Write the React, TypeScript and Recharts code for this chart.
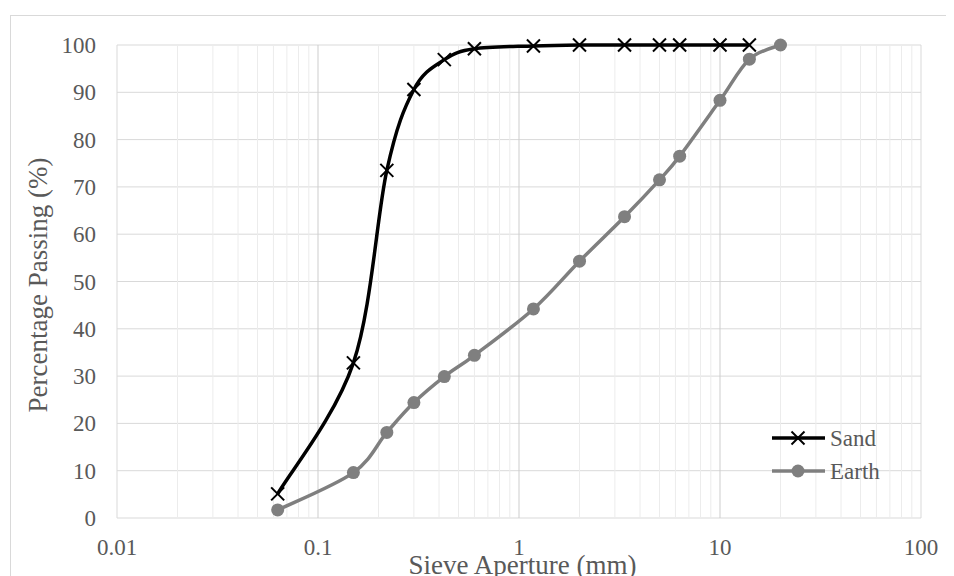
import React from 'react';
import { LineChart, Line, XAxis, YAxis, CartesianGrid, ReferenceLine, Legend, Label } from 'recharts';

const FONT = "'Times New Roman', 'Liberation Serif', serif";
const TEXT = '#595959';

// Sieve apertures (mm) and percentage passing
const sandSieves = [0.063, 0.15, 0.22, 0.3, 0.425, 0.6, 1.18, 2, 3.35, 5, 6.3, 10, 14];
const sandPassing = [5.1, 32.8, 73.5, 90.6, 96.9, 99.2, 99.8, 100, 100, 100, 100, 100, 100];
const earthSieves = [0.063, 0.15, 0.22, 0.3, 0.425, 0.6, 1.18, 2, 3.35, 5, 6.3, 10, 14, 20];
const earthPassing = [1.7, 9.6, 18.1, 24.4, 29.9, 34.4, 44.2, 54.3, 63.7, 71.5, 76.5, 88.3, 97.0, 100];

const seriesOrder = ['sand', 'earth'];

const xTicks = [0.01, 0.1, 1, 10, 100];
const yTicks = [0, 10, 20, 30, 40, 50, 60, 70, 80, 90, 100];
const xMajorLines = [0.1, 1, 10];
const xEdgeLines = [0.01, 100];
const xMinorLines = [
  0.02, 0.03, 0.04, 0.05, 0.06, 0.07, 0.08, 0.09,
  0.2, 0.3, 0.4, 0.5, 0.6, 0.7, 0.8, 0.9,
  2, 3, 4, 5, 6, 7, 8, 9,
  20, 30, 40, 50, 60, 70, 80, 90,
];

const sandData = sandSieves.map((x, i) => ({ x, sand: sandPassing[i] }));
const earthData = earthSieves.map((x, i) => ({ x, earth: earthPassing[i] }));

const SAND_COLOR = '#000000';
const EARTH_COLOR = '#7f7f7f';

// Excel-like smoothed line (Catmull-Rom through the points)
function excelSmooth(context: any) {
  let pts: number[][] = [];
  let line: number = NaN;
  return {
    areaStart() { line = 0; },
    areaEnd() { line = NaN; },
    lineStart() { pts = []; },
    point(x: number, y: number) { pts.push([+x, +y]); },
    lineEnd() {
      const n = pts.length;
      if (n) {
        if (line) context.lineTo(pts[0][0], pts[0][1]);
        else context.moveTo(pts[0][0], pts[0][1]);
        if (n === 2) {
          context.lineTo(pts[1][0], pts[1][1]);
        } else if (n > 2) {
          for (let i = 0; i < n - 1; i++) {
            const p0 = pts[i - 1] || pts[i];
            const p1 = pts[i];
            const p2 = pts[i + 1];
            const p3 = pts[i + 2] || p2;
            const c1x = p1[0] + (p2[0] - p0[0]) / 6;
            const c1y = p1[1] + (p2[1] - p0[1]) / 6;
            const c2x = p2[0] - (p3[0] - p1[0]) / 6;
            const c2y = p2[1] - (p3[1] - p1[1]) / 6;
            context.bezierCurveTo(c1x, c1y, c2x, c2y, p2[0], p2[1]);
          }
        }
      }
      if (line || (line !== 0 && n === 1)) context.closePath();
      line = 1 - line;
    },
  };
}

const CROSS = 6.5;

const CrossDot = (props: any) => {
  const { cx, cy, index } = props;
  if (cx == null || cy == null) return <g key={`s-${index}`} />;
  return (
    <g key={`s-${index}`}>
      <line x1={cx - CROSS} y1={cy - CROSS} x2={cx + CROSS} y2={cy + CROSS} stroke={SAND_COLOR} strokeWidth={2} />
      <line x1={cx - CROSS} y1={cy + CROSS} x2={cx + CROSS} y2={cy - CROSS} stroke={SAND_COLOR} strokeWidth={2} />
    </g>
  );
};

const CircleDot = (props: any) => {
  const { cx, cy, index } = props;
  if (cx == null || cy == null) return <g key={`e-${index}`} />;
  return <circle key={`e-${index}`} cx={cx} cy={cy} r={6.5} fill={EARTH_COLOR} stroke="none" />;
};

const XTick = (props: any) => {
  const { x, y, payload } = props;
  return (
    <text x={x} y={y + 37} textAnchor="middle" fontSize={23} fill={TEXT} fontFamily={FONT}>
      {payload.value}
    </text>
  );
};

const YTick = (props: any) => {
  const { x, y, payload } = props;
  return (
    <text x={x - 21} y={y + 8} textAnchor="end" fontSize={23} fill={TEXT} fontFamily={FONT}>
      {payload.value}
    </text>
  );
};

const renderLegend = (props: any) => {
  const items = [...(props.payload || [])].sort(
    (a: any, b: any) => seriesOrder.indexOf(a.dataKey) - seriesOrder.indexOf(b.dataKey)
  );
  return (
    <svg width={150} height={66} style={{ display: 'block', overflow: 'visible' }}>
      {items.map((entry: any, i: number) => {
        const cy = 15 + i * 33;
        const isSand = entry.dataKey === 'sand';
        return (
          <g key={entry.value}>
            <line x1={0} x2={53} y1={cy} y2={cy} stroke={entry.color} strokeWidth={3.5} />
            {isSand ? (
              <g>
                <line x1={26 - CROSS} y1={cy - CROSS} x2={26 + CROSS} y2={cy + CROSS} stroke={entry.color} strokeWidth={2} />
                <line x1={26 - CROSS} y1={cy + CROSS} x2={26 + CROSS} y2={cy - CROSS} stroke={entry.color} strokeWidth={2} />
              </g>
            ) : (
              <circle cx={26} cy={cy} r={6.5} fill={entry.color} />
            )}
            <text x={58} y={cy + 8} fontSize={23} fill={TEXT} fontFamily={FONT}>
              {entry.value}
            </text>
          </g>
        );
      })}
    </svg>
  );
};

export default function App() {
  return (
    <div style={{ position: 'relative', width: 946, height: 568, overflow: 'hidden' }}>
      <div
        style={{
          position: 'absolute',
          left: 2,
          top: 7,
          width: 1000,
          height: 1000,
          border: '1px solid #d9d9d9',
          boxSizing: 'border-box',
        }}
      />
      <LineChart width={946} height={568} margin={{ top: 37, right: 33, bottom: 0, left: 0 }}>
        <XAxis
          type="number"
          dataKey="x"
          scale="log"
          domain={[0.01, 100]}
          ticks={xTicks}
          allowDataOverflow
          axisLine={false}
          tickLine={false}
          tickSize={0}
          tickMargin={0}
          height={58}
          tick={<XTick />}
          interval={0}
        >
          <Label
            content={() => (
              <text x={514.5} y={566} textAnchor="middle" fontSize={27} fill={TEXT} fontFamily={FONT}>
                Sieve Aperture (mm)
              </text>
            )}
          />
        </XAxis>
        <YAxis
          type="number"
          domain={[0, 100]}
          ticks={yTicks}
          axisLine={false}
          tickLine={false}
          tickSize={0}
          tickMargin={0}
          width={109}
          tick={<YTick />}
          interval={0}
        >
          <Label
            content={() => (
              <text
                x={39}
                y={277}
                transform="rotate(-90 39 277)"
                textAnchor="middle"
                fontSize={27}
                fill={TEXT}
                fontFamily={FONT}
              >
                Percentage Passing (%)
              </text>
            )}
          />
        </YAxis>
        {xMinorLines.map((v) => (
          <ReferenceLine key={`m-${v}`} x={v} stroke="#ececec" strokeWidth={1} />
        ))}
        <CartesianGrid vertical={false} stroke="#d9d9d9" strokeWidth={1} />
        {xMajorLines.map((v) => (
          <ReferenceLine key={`M-${v}`} x={v} stroke="#cdcdcd" strokeWidth={1} />
        ))}
        {xEdgeLines.map((v) => (
          <ReferenceLine key={`E-${v}`} x={v} stroke="#d9d9d9" strokeWidth={1} />
        ))}
        <Line
          data={sandData}
          dataKey="sand"
          name="Sand"
          type={excelSmooth as any}
          stroke={SAND_COLOR}
          strokeWidth={3.5}
          dot={CrossDot}
          activeDot={false}
          isAnimationActive={false}
        />
        <Line
          data={earthData}
          dataKey="earth"
          name="Earth"
          type={excelSmooth as any}
          stroke={EARTH_COLOR}
          strokeWidth={3.5}
          dot={CircleDot}
          activeDot={false}
          isAnimationActive={false}
        />
        <Legend
          layout="vertical"
          align="center"
          verticalAlign="middle"
          content={renderLegend}
          wrapperStyle={{ position: 'absolute', left: 764, top: 415, width: 150, height: 66 }}
        />
      </LineChart>
    </div>
  );
}
